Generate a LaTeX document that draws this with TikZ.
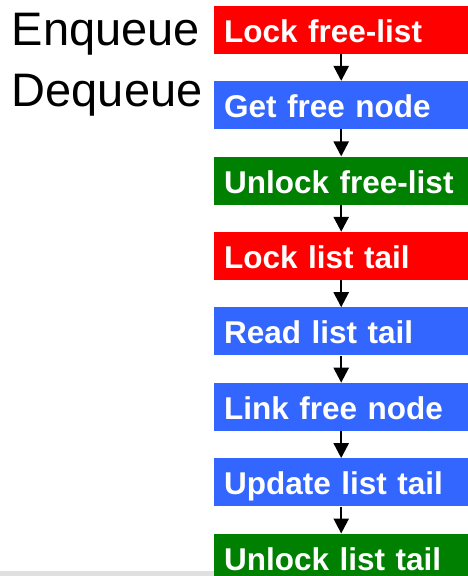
\documentclass[tikz,border=0pt]{standalone}
\usepackage{fontspec}
\setmainfont{Liberation Sans}
\usetikzlibrary{arrows.meta}
\definecolor{lockred}{RGB}{255,0,0}
\definecolor{workblue}{RGB}{51,102,255}
\definecolor{unlockgreen}{RGB}{0,128,0}
\definecolor{stripgray}{RGB}{224,224,224}
\tikzset{
    stepbox/.style={rectangle, anchor=west, minimum width=254pt, minimum height=48pt,
        inner xsep=10pt, inner ysep=0pt, text width=234pt, align=left,
        text height=25pt, text depth=0pt, text=white,
        font=\fontsize{31.5}{31.5}\selectfont\bfseries},
    lockbox/.style={stepbox, fill=lockred},
    workbox/.style={stepbox, fill=workblue},
    unlockbox/.style={stepbox, fill=unlockgreen},
    flow/.style={draw=black, line width=2.5pt, -{Triangle[width=15pt,length=15pt]}},
    heading/.style={anchor=base west, inner sep=0pt, font=\fontsize{47}{47}\selectfont}
}
\begin{document}
\begin{tikzpicture}[x=1pt, y=-1pt]
    \useasboundingbox (0,0) rectangle (468,576);
    \clip (0,0) rectangle (468,576);
    \fill[stripgray] (0,571) rectangle (214,576);

    \node[heading] (enq) at (11.5,45) {Enqueue};
    \node[heading] (deq) at (11.5,106) {Dequeue};

    \node[lockbox]   (lockfree)   at (214,29.7)  {Lock free-list};
    \node[workbox]   (getnode)    at (214,105.1) {Get free node};
    \node[unlockbox] (unlockfree) at (214,180.6) {Unlock free-list};
    \node[lockbox]   (locktail)   at (214,256.0) {Lock list tail};
    \node[workbox]   (readtail)   at (214,331.4) {Read list tail};
    \node[workbox]   (linknode)   at (214,406.9) {Link free node};
    \node[workbox]   (updtail)    at (214,482.3) {Update list tail};
    \node[unlockbox] (unlocktail) at (214,557.7) {Unlock list tail};

    \draw[flow] (lockfree.south) -- (getnode.north);
    \draw[flow] (getnode.south) -- (unlockfree.north);
    \draw[flow] (unlockfree.south) -- (locktail.north);
    \draw[flow] (locktail.south) -- (readtail.north);
    \draw[flow] (readtail.south) -- (linknode.north);
    \draw[flow] (linknode.south) -- (updtail.north);
    \draw[flow] (updtail.south) -- (unlocktail.north);
\end{tikzpicture}
\end{document}
